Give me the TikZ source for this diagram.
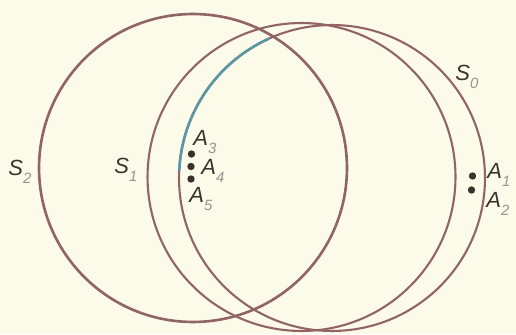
\documentclass[tikz,border=0pt]{standalone}
\usepackage{fontspec}
\setsansfont{Liberation Sans}
\usepackage{xcolor}
\definecolor{paper}{RGB}{252,251,234}
\definecolor{ringbrown}{RGB}{145,100,102}
\definecolor{arcblue}{RGB}{95,150,165}
\definecolor{subgray}{RGB}{150,150,145}
\definecolor{inkdark}{RGB}{60,50,45}
\usepackage{tikz}
\usetikzlibrary{calc}
\tikzset{
  ring/.style={draw=ringbrown,line width=1.2pt},
  ring_thick/.style={ring,line width=1.5pt},
  arc_blue/.style={draw=arcblue,line width=1.5pt,line cap=round},
  pt/.style={circle,fill=inkdark,inner sep=0pt,minimum size=4.2pt},
  lbl/.style={font=\sffamily\itshape\fontsize{12.5}{13}\selectfont,
    text=inkdark,inner sep=0pt,anchor=base west},
}
\newcommand{\lab}[2]{#1\raisebox{-4pt}{\fontsize{8.5}{9}\selectfont\color{subgray}#2}}

\begin{document}
\begin{tikzpicture}[x=0.02cm,y=0.02cm]
  \fill[paper] (0,0) rectangle (516,334);
  \useasboundingbox (0,0) rectangle (516,334);
  % centres of the three spheres
  \coordinate (c2) at (193,166);
  \coordinate (c1) at (301.5,157);
  \coordinate (c0) at (332,156);
  \draw[ring_thick] (c2) circle [radius=3.08cm];
  \draw[ring] (c1) circle [radius=3.08cm];
  \draw[ring] (c0) circle [radius=3.06cm];
  % blue part of S0
  \draw[arc_blue] ($(c0)+(114.5:3.06cm)$) arc [start angle=114.5,end angle=177,radius=3.06cm];
  % points
  \node (a3) [pt] at (191.5,180) {};
  \node (a4) [pt] at (191,167.5) {};
  \node (a5) [pt] at (191,155) {};
  \node (a1) [pt] at (472.5,158) {};
  \node (a2) [pt] at (471.5,144) {};
  % labels
  \node (s2l) [lbl] at (8,158) {\lab{S}{2}};
  \node (s1l) [lbl] at (114,160) {\lab{S}{1}};
  \node (s0l) [lbl] at (455,253) {\lab{S}{0}};
  \node (a3l) [lbl] at (193,188) {\lab{A}{3}};
  \node (a4l) [lbl] at (201,159) {\lab{A}{4}};
  \node (a5l) [lbl] at (189,131) {\lab{A}{5}};
  \node (a1l) [lbl] at (487,155) {\lab{A}{1}};
  \node (a2l) [lbl] at (486,126) {\lab{A}{2}};
\end{tikzpicture}
\end{document}
